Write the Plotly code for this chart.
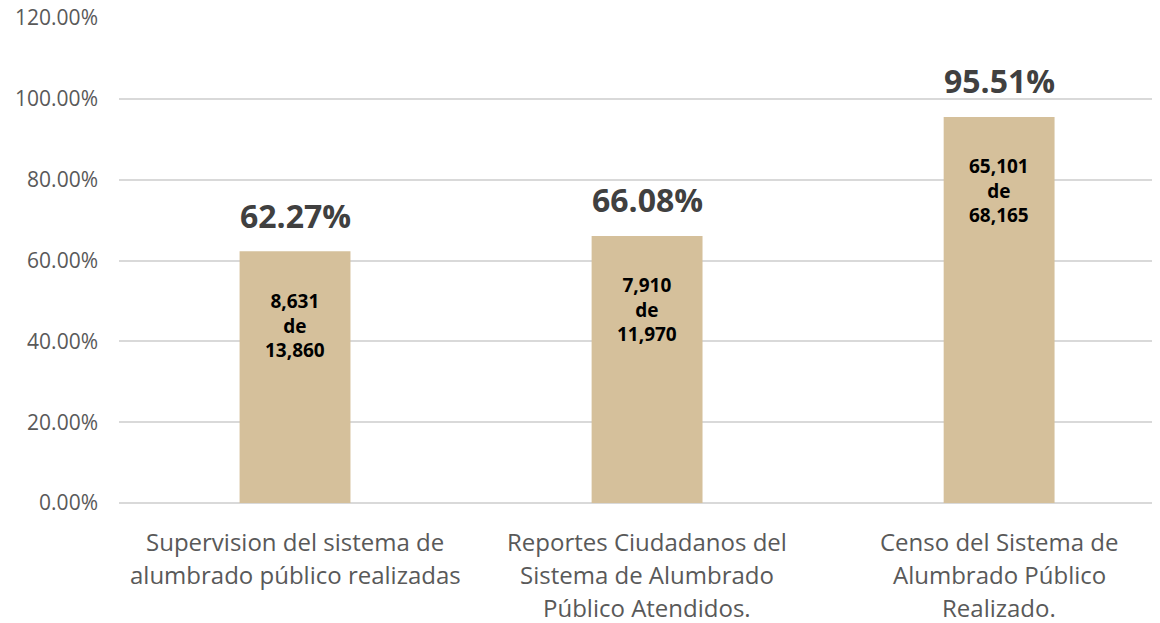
import plotly.graph_objects as go

categories = [
    "Supervision del sistema de<br>alumbrado público realizadas",
    "Reportes Ciudadanos del<br>Sistema de Alumbrado<br>Público Atendidos.",
    "Censo del Sistema de<br>Alumbrado Público<br>Realizado.",
]
percent_values = [0.6227, 0.6608, 0.9551]
done_counts = ["8,631", "7,910", "65,101"]
total_counts = ["13,860", "11,970", "68,165"]
tick_values = [0, 0.2, 0.4, 0.6, 0.8, 1.0, 1.2]

x_idx = list(range(len(categories)))

fig = go.Figure()
fig.add_trace(go.Bar(
    x=x_idx, y=percent_values, width=0.315,
    marker=dict(color="#D5C09B", line=dict(width=0)),
    hoverinfo="skip",
))

annotations = []
for i, (v, d, t, c) in enumerate(zip(percent_values, done_counts, total_counts, categories)):
    annotations.append(dict(
        x=i, y=v, xref="x", yref="y", text=f"<b>{v*100:.2f}%</b>",
        showarrow=False, yanchor="middle", yshift=36,
        font=dict(family="Open Sans", size=32, color="#404040"),
    ))
    annotations.append(dict(
        x=i, y=v, xref="x", yref="y", text=f"<b>{d}<br>de<br>{t}</b>",
        showarrow=False, yanchor="middle", yshift=-74,
        font=dict(family="Open Sans", size=19, color="#000000"),
    ))
    for j, line in enumerate(c.split("<br>")):
        annotations.append(dict(
            x=i, y=0, xref="x", yref="paper", text=line,
            showarrow=False, yanchor="middle", yshift=-38 - 33 * j,
            font=dict(family="Open Sans", size=24, color="#595959"),
        ))

fig.update_layout(
    width=1160, height=623,
    margin=dict(l=111, r=8, t=10, b=128, autoexpand=False),
    paper_bgcolor="white", plot_bgcolor="white",
    showlegend=False,
    annotations=annotations,
    xaxis=dict(
        range=[-0.5, 2.457], showticklabels=False, showgrid=False,
        zeroline=False, showline=False, ticks="", fixedrange=True,
        automargin=False,
    ),
    yaxis=dict(
        range=[0, 1.2], tickvals=tick_values, tickformat=".2%",
        showgrid=True, gridcolor="#D9D9D9", gridwidth=1.5,
        zeroline=True, zerolinecolor="#D9D9D9", zerolinewidth=1.5,
        showline=False, ticks="", ticklabelstandoff=20,
        ticklabeloverflow="allow", automargin=False,
        tickfont=dict(family="Open Sans", size=21, color="#595959"),
    ),
)

fig.write_html("out.html")
